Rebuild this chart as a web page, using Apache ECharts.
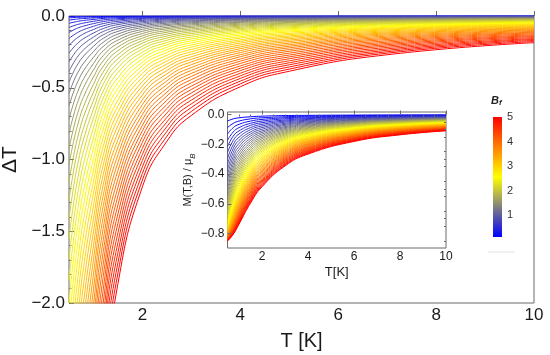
<!DOCTYPE html>
<html><head><meta charset="utf-8">
<script src="https://cdn.jsdelivr.net/npm/echarts@6/dist/echarts.min.js"></script>
<style>html,body{margin:0;padding:0;background:#fff}#c{width:550px;height:355px}</style>
</head><body><div id="c"></div>
<script>
// ---- data ----
const B_values = [0.1,0.2,0.3,0.4,0.5,0.6,0.7,0.8,0.9,1.0,1.1,1.2,1.3,1.4,1.5,1.6,1.7,1.8,1.9,2.0,
  2.1,2.2,2.3,2.4,2.5,2.6,2.7,2.8,2.9,3.0,3.1,3.2,3.3,3.4,3.5,3.6,3.7,3.8,3.9,4.0,
  4.1,4.2,4.3,4.4,4.5,4.6,4.7,4.8,4.9,5.0];

// main panel: Delta T at these temperatures (null = before the curve enters the plotted range)
const T_main = [0.5,0.6,0.7,0.8,1.0,1.2,1.5,2,2.5,3,4,5,7,10];
const dT_B0_1 = [-0.0032,-0.0027,-0.0023,-0.0019,-0.0015,-0.0011,-0.0007,-0.0005,-0.0003,-0.0003,-0.0002,-0.0002,-0.0001,-0.0001];
const dT_B0_2 = [-0.013,-0.011,-0.009,-0.008,-0.006,-0.004,-0.003,-0.002,-0.0014,-0.0011,-0.0008,-0.0006,-0.0004,-0.0003];
const dT_B0_3 = [-0.029,-0.024,-0.020,-0.0175,-0.013,-0.0097,-0.0067,-0.0043,-0.0031,-0.0025,-0.0018,-0.0014,-0.0010,-0.0007];
const dT_B0_4 = [-0.051,-0.043,-0.036,-0.031,-0.024,-0.017,-0.012,-0.0076,-0.0056,-0.0044,-0.0032,-0.0025,-0.0017,-0.0012];
const dT_B0_5 = [-0.080,-0.067,-0.057,-0.049,-0.037,-0.027,-0.019,-0.012,-0.0087,-0.0069,-0.0049,-0.0039,-0.0027,-0.0019];
const dT_B0_6 = [-0.115,-0.096,-0.081,-0.070,-0.053,-0.039,-0.027,-0.017,-0.0126,-0.010,-0.0071,-0.0055,-0.0039,-0.0027];
const dT_B0_7 = [-0.157,-0.131,-0.111,-0.095,-0.072,-0.053,-0.037,-0.023,-0.017,-0.0136,-0.0097,-0.0075,-0.0053,-0.0036];
const dT_B0_8 = [-0.205,-0.171,-0.145,-0.124,-0.094,-0.069,-0.048,-0.031,-0.022,-0.018,-0.0126,-0.0099,-0.0069,-0.0047];
const dT_B0_9 = [-0.259,-0.216,-0.183,-0.157,-0.119,-0.0875,-0.060,-0.039,-0.028,-0.022,-0.016,-0.0125,-0.0087,-0.006];
const dT_B1_0 = [-0.320,-0.267,-0.226,-0.194,-0.147,-0.108,-0.075,-0.048,-0.035,-0.028,-0.020,-0.0154,-0.0108,-0.0074];
const dT_B1_1 = [-0.387,-0.323,-0.273,-0.235,-0.178,-0.131,-0.090,-0.058,-0.042,-0.034,-0.024,-0.019,-0.013,-0.009];
const dT_B1_2 = [-0.461,-0.384,-0.325,-0.279,-0.212,-0.156,-0.107,-0.069,-0.050,-0.040,-0.028,-0.022,-0.016,-0.011];
const dT_B1_3 = [-0.541,-0.451,-0.382,-0.328,-0.248,-0.183,-0.126,-0.080,-0.059,-0.047,-0.033,-0.026,-0.018,-0.0125];
const dT_B1_4 = [-0.627,-0.523,-0.443,-0.380,-0.288,-0.212,-0.146,-0.093,-0.068,-0.054,-0.039,-0.030,-0.021,-0.015];
const dT_B1_5 = [-0.720,-0.601,-0.509,-0.437,-0.331,-0.243,-0.168,-0.107,-0.079,-0.062,-0.044,-0.035,-0.024,-0.017];
const dT_B1_6 = [-0.819,-0.684,-0.579,-0.497,-0.376,-0.276,-0.191,-0.122,-0.089,-0.071,-0.050,-0.039,-0.028,-0.019];
const dT_B1_7 = [-0.925,-0.772,-0.653,-0.561,-0.425,-0.312,-0.216,-0.138,-0.101,-0.080,-0.057,-0.045,-0.031,-0.021];
const dT_B1_8 = [-1.037,-0.865,-0.732,-0.629,-0.476,-0.350,-0.242,-0.154,-0.113,-0.090,-0.064,-0.050,-0.035,-0.024];
const dT_B1_9 = [-1.155,-0.964,-0.816,-0.700,-0.531,-0.390,-0.269,-0.172,-0.126,-0.100,-0.071,-0.056,-0.039,-0.027];
const dT_B2_0 = [-1.280,-1.068,-0.904,-0.776,-0.588,-0.432,-0.298,-0.190,-0.140,-0.111,-0.079,-0.062,-0.043,-0.030];
const dT_B2_1 = [-1.411,-1.177,-0.997,-0.856,-0.648,-0.476,-0.329,-0.210,-0.154,-0.122,-0.087,-0.068,-0.048,-0.033];
const dT_B2_2 = [-1.549,-1.292,-1.094,-0.939,-0.711,-0.523,-0.361,-0.230,-0.169,-0.134,-0.095,-0.075,-0.052,-0.036];
const dT_B2_3 = [-1.693,-1.412,-1.196,-1.026,-0.778,-0.571,-0.395,-0.252,-0.185,-0.147,-0.104,-0.082,-0.057,-0.039];
const dT_B2_4 = [-1.843,-1.538,-1.302,-1.117,-0.847,-0.622,-0.430,-0.274,-0.201,-0.160,-0.113,-0.089,-0.062,-0.043];
const dT_B2_5 = [-2.000,-1.669,-1.413,-1.213,-0.919,-0.675,-0.466,-0.298,-0.218,-0.173,-0.123,-0.096,-0.068,-0.046];
const dT_B2_6 = [-2.163,-1.805,-1.528,-1.311,-0.994,-0.730,-0.504,-0.322,-0.236,-0.187,-0.133,-0.104,-0.073,-0.050];
const dT_B2_7 = [-2.333,-1.946,-1.648,-1.414,-1.072,-0.787,-0.544,-0.347,-0.254,-0.202,-0.144,-0.112,-0.079,-0.054];
const dT_B2_8 = [-2.509,-2.093,-1.772,-1.521,-1.152,-0.847,-0.585,-0.373,-0.274,-0.217,-0.154,-0.121,-0.085,-0.058];
const dT_B2_9 = [-2.691,-2.245,-1.901,-1.632,-1.236,-0.908,-0.627,-0.400,-0.294,-0.233,-0.166,-0.130,-0.091,-0.062];
const dT_B3_0 = [null,-2.403,-2.034,-1.746,-1.323,-0.972,-0.671,-0.428,-0.314,-0.249,-0.177,-0.139,-0.097,-0.067];
const dT_B3_1 = [null,-2.566,-2.172,-1.864,-1.413,-1.038,-0.717,-0.457,-0.335,-0.266,-0.189,-0.148,-0.104,-0.071];
const dT_B3_2 = [null,-2.734,-2.314,-1.987,-1.505,-1.106,-0.764,-0.487,-0.357,-0.284,-0.202,-0.158,-0.111,-0.076];
const dT_B3_3 = [null,-2.908,-2.461,-2.113,-1.601,-1.176,-0.812,-0.518,-0.380,-0.302,-0.215,-0.168,-0.118,-0.081];
const dT_B3_4 = [null,null,-2.613,-2.243,-1.699,-1.248,-0.862,-0.550,-0.403,-0.320,-0.228,-0.178,-0.125,-0.086];
const dT_B3_5 = [null,null,-2.769,-2.377,-1.801,-1.323,-0.914,-0.583,-0.428,-0.339,-0.241,-0.189,-0.132,-0.091];
const dT_B3_6 = [null,null,-2.929,-2.514,-1.905,-1.400,-0.967,-0.617,-0.452,-0.359,-0.255,-0.200,-0.140,-0.096];
const dT_B3_7 = [null,null,-3.094,-2.656,-2.012,-1.479,-1.021,-0.652,-0.478,-0.379,-0.270,-0.211,-0.148,-0.101];
const dT_B3_8 = [null,null,null,-2.801,-2.123,-1.560,-1.077,-0.687,-0.504,-0.400,-0.284,-0.222,-0.156,-0.107];
const dT_B3_9 = [null,null,null,-2.951,-2.236,-1.643,-1.135,-0.724,-0.531,-0.421,-0.300,-0.234,-0.164,-0.113];
const dT_B4_0 = [null,null,null,-3.104,-2.352,-1.728,-1.194,-0.762,-0.558,-0.443,-0.315,-0.246,-0.173,-0.118];
const dT_B4_1 = [null,null,null,-3.261,-2.471,-1.815,-1.254,-0.800,-0.587,-0.466,-0.331,-0.259,-0.182,-0.124];
const dT_B4_2 = [null,null,null,-3.422,-2.593,-1.905,-1.316,-0.840,-0.616,-0.489,-0.348,-0.272,-0.191,-0.131];
const dT_B4_3 = [null,null,null,-3.587,-2.718,-1.997,-1.379,-0.880,-0.645,-0.512,-0.364,-0.285,-0.200,-0.137];
const dT_B4_4 = [null,null,null,null,-2.846,-2.091,-1.444,-0.922,-0.676,-0.536,-0.381,-0.298,-0.209,-0.143];
const dT_B4_5 = [null,null,null,null,-2.977,-2.187,-1.511,-0.964,-0.707,-0.561,-0.399,-0.312,-0.219,-0.150];
const dT_B4_6 = [null,null,null,null,-3.111,-2.285,-1.579,-1.007,-0.738,-0.586,-0.417,-0.326,-0.229,-0.157];
const dT_B4_7 = [null,null,null,null,-3.247,-2.386,-1.648,-1.051,-0.771,-0.612,-0.435,-0.340,-0.239,-0.163];
const dT_B4_8 = [null,null,null,null,-3.387,-2.488,-1.719,-1.097,-0.804,-0.638,-0.454,-0.355,-0.249,-0.170];
const dT_B4_9 = [null,null,null,null,-3.529,-2.593,-1.791,-1.143,-0.838,-0.665,-0.473,-0.370,-0.259,-0.178];
const dT_B5_0 = [null,null,null,null,-3.675,-2.700,-1.865,-1.190,-0.873,-0.693,-0.493,-0.385,-0.270,-0.186];
const dT_curves = [dT_B0_1,dT_B0_2,dT_B0_3,dT_B0_4,dT_B0_5,dT_B0_6,dT_B0_7,dT_B0_8,dT_B0_9,dT_B1_0,
  dT_B1_1,dT_B1_2,dT_B1_3,dT_B1_4,dT_B1_5,dT_B1_6,dT_B1_7,dT_B1_8,dT_B1_9,dT_B2_0,
  dT_B2_1,dT_B2_2,dT_B2_3,dT_B2_4,dT_B2_5,dT_B2_6,dT_B2_7,dT_B2_8,dT_B2_9,dT_B3_0,
  dT_B3_1,dT_B3_2,dT_B3_3,dT_B3_4,dT_B3_5,dT_B3_6,dT_B3_7,dT_B3_8,dT_B3_9,dT_B4_0,
  dT_B4_1,dT_B4_2,dT_B4_3,dT_B4_4,dT_B4_5,dT_B4_6,dT_B4_7,dT_B4_8,dT_B4_9,dT_B5_0];

// inset: M(T,B)/muB, one array per temperature, entries follow B_values
const T_inset = [0.5,0.75,1,1.5,2,3,4,6,8,10];
const M_T0_5 = [-0.044,-0.088,-0.131,-0.174,-0.216,-0.256,-0.296,-0.334,-0.371,-0.405,
  -0.439,-0.470,-0.501,-0.529,-0.556,-0.580,-0.603,-0.625,-0.646,-0.664,
  -0.681,-0.697,-0.711,-0.724,-0.737,-0.748,-0.758,-0.767,-0.776,-0.784,
  -0.791,-0.797,-0.803,-0.809,-0.813,-0.818,-0.822,-0.826,-0.829,-0.832,
  -0.835,-0.837,-0.839,-0.841,-0.843,-0.845,-0.846,-0.848,-0.849,-0.850];
const M_T0_75 = [-0.029,-0.059,-0.088,-0.117,-0.145,-0.174,-0.202,-0.229,-0.256,-0.283,
  -0.309,-0.334,-0.358,-0.382,-0.405,-0.428,-0.450,-0.471,-0.491,-0.510,
  -0.529,-0.547,-0.564,-0.580,-0.596,-0.611,-0.625,-0.639,-0.651,-0.664,
  -0.675,-0.686,-0.697,-0.706,-0.716,-0.724,-0.733,-0.741,-0.748,-0.755,
  -0.761,-0.768,-0.773,-0.779,-0.784,-0.789,-0.793,-0.798,-0.802,-0.805];
const M_T1 = [-0.022,-0.044,-0.066,-0.088,-0.110,-0.131,-0.153,-0.174,-0.195,-0.216,
  -0.236,-0.256,-0.276,-0.296,-0.315,-0.334,-0.352,-0.371,-0.388,-0.405,
  -0.422,-0.439,-0.455,-0.471,-0.486,-0.501,-0.515,-0.529,-0.542,-0.556,
  -0.568,-0.580,-0.592,-0.603,-0.614,-0.625,-0.635,-0.646,-0.654,-0.664,
  -0.672,-0.681,-0.689,-0.697,-0.703,-0.711,-0.718,-0.724,-0.731,-0.737];
const M_T1_5 = [-0.015,-0.029,-0.044,-0.059,-0.073,-0.088,-0.102,-0.117,-0.131,-0.145,
  -0.160,-0.174,-0.188,-0.202,-0.216,-0.229,-0.243,-0.256,-0.270,-0.283,
  -0.296,-0.309,-0.321,-0.334,-0.346,-0.358,-0.370,-0.382,-0.394,-0.405,
  -0.417,-0.428,-0.439,-0.450,-0.460,-0.471,-0.481,-0.491,-0.501,-0.510,
  -0.520,-0.529,-0.538,-0.547,-0.556,-0.564,-0.572,-0.580,-0.588,-0.596];
const M_T2 = [-0.011,-0.022,-0.033,-0.044,-0.055,-0.066,-0.077,-0.088,-0.099,-0.110,
  -0.120,-0.131,-0.142,-0.153,-0.163,-0.174,-0.184,-0.195,-0.205,-0.216,
  -0.226,-0.236,-0.246,-0.256,-0.266,-0.276,-0.286,-0.296,-0.305,-0.315,
  -0.324,-0.334,-0.343,-0.352,-0.362,-0.370,-0.379,-0.388,-0.397,-0.405,
  -0.414,-0.422,-0.431,-0.439,-0.447,-0.455,-0.463,-0.471,-0.478,-0.486];
const M_T3 = [-0.007,-0.015,-0.022,-0.029,-0.037,-0.044,-0.051,-0.059,-0.066,-0.073,
  -0.081,-0.088,-0.095,-0.102,-0.110,-0.117,-0.124,-0.131,-0.138,-0.145,
  -0.153,-0.160,-0.167,-0.174,-0.181,-0.188,-0.195,-0.202,-0.209,-0.216,
  -0.222,-0.229,-0.236,-0.243,-0.250,-0.256,-0.263,-0.270,-0.276,-0.283,
  -0.289,-0.296,-0.302,-0.309,-0.315,-0.321,-0.328,-0.334,-0.340,-0.346];
const M_T4 = [-0.0055,-0.011,-0.0165,-0.022,-0.0275,-0.033,-0.0385,-0.044,-0.0495,-0.055,
  -0.0605,-0.066,-0.0714,-0.077,-0.0823,-0.088,-0.0931,-0.099,-0.104,-0.110,
  -0.115,-0.120,-0.126,-0.131,-0.136,-0.142,-0.147,-0.153,-0.158,-0.163,
  -0.168,-0.174,-0.179,-0.184,-0.189,-0.195,-0.200,-0.205,-0.210,-0.216,
  -0.221,-0.226,-0.231,-0.236,-0.241,-0.246,-0.251,-0.256,-0.261,-0.266];
const M_T6 = [-0.0037,-0.007,-0.011,-0.015,-0.018,-0.022,-0.026,-0.029,-0.033,-0.037,
  -0.040,-0.044,-0.048,-0.051,-0.055,-0.059,-0.062,-0.066,-0.070,-0.073,
  -0.077,-0.081,-0.084,-0.088,-0.091,-0.095,-0.099,-0.102,-0.106,-0.110,
  -0.113,-0.117,-0.120,-0.124,-0.128,-0.131,-0.135,-0.138,-0.142,-0.145,
  -0.149,-0.153,-0.156,-0.160,-0.163,-0.167,-0.170,-0.174,-0.177,-0.181];
const M_T8 = [-0.0028,-0.0055,-0.0083,-0.011,-0.0138,-0.0165,-0.0193,-0.022,-0.0248,-0.0275,
  -0.0303,-0.033,-0.0358,-0.0385,-0.0413,-0.044,-0.0467,-0.0495,-0.0522,-0.055,
  -0.0577,-0.0605,-0.0632,-0.0659,-0.0686,-0.0714,-0.0741,-0.0769,-0.0796,-0.0823,
  -0.085,-0.0877,-0.0905,-0.0931,-0.0959,-0.0986,-0.1013,-0.1041,-0.1068,-0.1095,
  -0.1122,-0.1149,-0.1176,-0.1203,-0.123,-0.1256,-0.1284,-0.1311,-0.1337,-0.1364];
const M_T10 = [-0.0022,-0.0044,-0.0066,-0.0088,-0.011,-0.0132,-0.0154,-0.0176,-0.0198,-0.022,
  -0.0242,-0.0264,-0.0286,-0.0308,-0.033,-0.0352,-0.0374,-0.0396,-0.0418,-0.044,
  -0.0462,-0.0484,-0.0506,-0.0528,-0.055,-0.0572,-0.0594,-0.0616,-0.0638,-0.066,
  -0.0681,-0.0703,-0.0725,-0.0747,-0.0769,-0.0791,-0.0812,-0.0835,-0.0856,-0.0879,
  -0.09,-0.0923,-0.0943,-0.0967,-0.0986,-0.1011,-0.1029,-0.1054,-0.1073,-0.1096];
const M_columns = [M_T0_5,M_T0_75,M_T1,M_T1_5,M_T2,M_T3,M_T4,M_T6,M_T8,M_T10];

// tick labels
const xTicksMain = [2,4,6,8,10];
const xMinorMain = [1,1.5,2.5,3,3.5,4.5,5,5.5,6.5,7,7.5,8.5,9,9.5];
const xTicksInset = [2,4,6,8,10];
const xMinorInset = [1,1.5,2.5,3,3.5,4.5,5,5.5,6.5,7,7.5,8.5,9,9.5];
const yTicksInset = [0,-0.2,-0.4,-0.6,-0.8];
const yMinorInset = [-0.05,-0.1,-0.15,-0.25,-0.3,-0.35,-0.45,-0.5,-0.55,-0.65,-0.7,-0.75,-0.85];
const colorbarTicks = [1,2,3,4,5];
const B_min = 0.1, B_max = 5;

// ---- styling ----
const FONT = "'Liberation Sans', Arial, sans-serif";
const FRAME = '#6a6a6a';
function blend(B){
  const p = Math.min(1, Math.max(0, (B - B_min) / (B_max - B_min)));
  let r, g, b;
  if (p < 0.5) { const t = p * 2; r = t; g = t; b = 1 - t; }
  else { const t = (p - 0.5) * 2; r = 1; g = 1 - t; b = 0; }
  return 'rgb(' + Math.round(r*255) + ',' + Math.round(g*255) + ',' + Math.round(b*255) + ')';
}
const fmt1 = v => (Math.abs(v) < 1e-9 ? '0.0' : v.toFixed(1).replace('-', '\u2212'));

const series = [];
B_values.forEach((B, i) => {
  const data = T_main.map((t, j) => [t, dT_curves[i][j]]).filter(d => d[1] !== null);
  series.push({type:'line', xAxisIndex:0, yAxisIndex:0, data, showSymbol:false, symbol:'none',
    smooth:0.5, silent:true, animation:false, clip:true,
    lineStyle:{width:1, color:blend(B)}, z:2});
});
B_values.forEach((B, i) => {
  const data = T_inset.map((t, j) => [t, M_columns[j][i]]);
  series.push({type:'line', xAxisIndex:2, yAxisIndex:1, data, showSymbol:false, symbol:'none',
    smooth:0.5, silent:true, animation:false, clip:true,
    lineStyle:{width:1, color:blend(B)}, z:3});
});

const chart = echarts.init(document.getElementById('c'), null, {renderer:'canvas'});
chart.setOption({
  animation:false,
  textStyle:{fontFamily:FONT},
  grid:[
    {left:69, top:16, width:465, height:287, show:true, borderColor:FRAME, borderWidth:1, backgroundColor:'#fff', outerBoundsMode:'none', containLabel:false},
    {left:227.5, top:112, width:218.5, height:136, show:true, borderColor:FRAME, borderWidth:1, backgroundColor:'#fff', z:3, outerBoundsMode:'none', containLabel:false},
    {left:493, top:117, width:9, height:120, show:true, borderWidth:0, outerBoundsMode:'none', containLabel:false,
      backgroundColor:new echarts.graphic.LinearGradient(0,0,0,1,[
        {offset:0,color:'#ff0000'},{offset:0.5,color:'#ffff00'},{offset:1,color:'#0000ff'}])}
  ],
  xAxis:[
    {gridIndex:0, type:'value', min:0.5, max:10, axisLine:{show:false}, splitLine:{show:false},
      axisTick:{inside:true, length:5, customValues:xTicksMain, lineStyle:{color:FRAME}},
      axisLabel:{customValues:xTicksMain, fontSize:17, color:'#1a1a1a', margin:4, fontFamily:FONT},
      name:'T [K]', nameLocation:'middle', nameGap:28,
      nameTextStyle:{fontSize:20, color:'#1a1a1a', fontFamily:FONT, verticalAlign:'top'}},
    {gridIndex:0, type:'value', min:0.5, max:10, axisLine:{show:false}, splitLine:{show:false},
      axisTick:{inside:true, length:2.5, customValues:xMinorMain, lineStyle:{color:FRAME}},
      axisLabel:{show:false}},
    {gridIndex:1, type:'value', min:0.5, max:10, axisLine:{show:false}, splitLine:{show:false},
      axisTick:{inside:true, length:4, customValues:xTicksInset, lineStyle:{color:FRAME}},
      axisLabel:{customValues:xTicksInset, fontSize:12, color:'#1a1a1a', margin:3, fontFamily:FONT},
      name:'T[K]', nameLocation:'middle', nameGap:18,
      nameTextStyle:{fontSize:13, color:'#1a1a1a', fontFamily:FONT, verticalAlign:'top'}, z:4},
    {gridIndex:1, type:'value', min:0.5, max:10, axisLine:{show:false}, splitLine:{show:false},
      axisTick:{inside:true, length:2, customValues:xMinorInset, lineStyle:{color:FRAME}},
      axisLabel:{show:false}, z:4},
    {gridIndex:2, type:'value', show:false, min:0, max:1}
  ],
  yAxis:[
    {gridIndex:0, type:'value', min:-2, max:0, interval:0.5, axisLine:{show:false}, splitLine:{show:false},
      axisTick:{inside:true, length:5, lineStyle:{color:FRAME}},
      minorTick:{show:true, splitNumber:5, length:2.5, lineStyle:{color:FRAME}},
      axisLabel:{formatter:fmt1, fontSize:17, color:'#1a1a1a', margin:4, fontFamily:FONT},
      name:'\u0394T', nameLocation:'middle', nameGap:38, nameRotate:90,
      nameTextStyle:{fontSize:21, color:'#1a1a1a', fontFamily:FONT}},
    {gridIndex:1, type:'value', min:-0.897, max:0.017, axisLine:{show:false}, splitLine:{show:false},
      axisTick:{inside:true, length:4, customValues:yTicksInset, lineStyle:{color:FRAME}},
      axisLabel:{customValues:yTicksInset, formatter:fmt1, fontSize:12, color:'#1a1a1a', margin:3, fontFamily:FONT},
      name:'M(T,B) / \u03bc{s|B}', nameLocation:'middle', nameGap:27, nameRotate:90,
      nameTextStyle:{fontSize:11, color:'#1a1a1a', fontFamily:FONT,
        rich:{s:{fontSize:8, verticalAlign:'bottom', padding:[0,0,-3,0], fontStyle:'italic', fontFamily:FONT, color:'#1a1a1a'}}}, z:4},
    {gridIndex:1, type:'value', min:-0.897, max:0.017, axisLine:{show:false}, splitLine:{show:false},
      axisTick:{inside:true, length:2, customValues:yMinorInset, lineStyle:{color:FRAME}},
      axisLabel:{show:false}, z:4},
    {gridIndex:2, type:'value', min:B_min, max:B_max, position:'right', axisLine:{show:false},
      splitLine:{show:false}, axisTick:{show:false},
      axisLabel:{customValues:colorbarTicks, fontSize:11, color:'#333', margin:5, fontFamily:FONT}}
  ],
  graphic:[
    {type:'text', left:491, top:95, style:{text:'{b|B}{s|f}', fontFamily:FONT,
      rich:{b:{fontSize:11, fontWeight:'bold', fontStyle:'italic', fill:'#222'},
            s:{fontSize:8, fontWeight:'bold', fontStyle:'italic', fill:'#222', padding:[5,0,0,0]}}}},
    {type:'line', shape:{x1:488, y1:252, x2:515, y2:252}, style:{stroke:'#e2e2e2', lineWidth:1}}
  ],
  series
});
</script></body></html>
